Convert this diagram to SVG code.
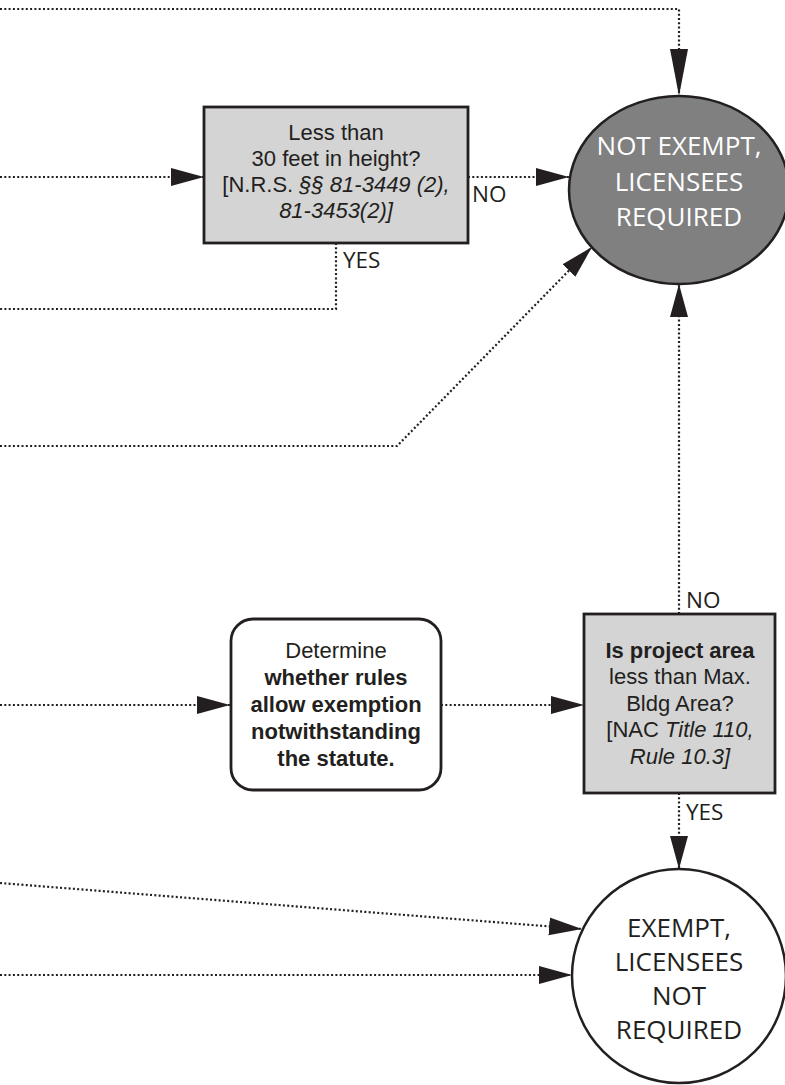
<svg xmlns="http://www.w3.org/2000/svg" width="785" height="1085" viewBox="0 0 785 1085">
<style>
.dot{fill:none;stroke:#231f20;stroke-width:2.2;stroke-dasharray:2 2.3}
.box{fill:#d4d4d4;stroke:#231f20;stroke-width:2.8}
.rbox{fill:#ffffff;stroke:#231f20;stroke-width:2.8}
.t{font-family:"Liberation Sans",Arial,sans-serif;font-size:22px;fill:#231f20;text-anchor:middle}
.b{font-weight:bold}
.i{font-style:italic}
.lbl{font-family:"Open Sans","Noto Sans",sans-serif;font-size:22.5px;fill:#231f20}
.ct{font-family:"Open Sans","Noto Sans",sans-serif;font-size:26px;text-anchor:middle}
</style>
<defs>
<marker id="ah" markerUnits="userSpaceOnUse" markerWidth="34" markerHeight="20" refX="33" refY="9" orient="auto">
<path d="M0,0 L33,9 L0,18 Z" fill="#231f20"/>
</marker>
<marker id="ahl" markerUnits="userSpaceOnUse" markerWidth="48" markerHeight="20" refX="47" refY="9" orient="auto">
<path d="M0,0 L47,9 L0,18 Z" fill="#231f20"/>
</marker>
</defs>

<g id="connectors">
<path class="dot" d="M0,9 H679 V96" marker-end="url(#ahl)"/>
<path class="dot" d="M0,177 H204" marker-end="url(#ah)"/>
<path class="dot" d="M468,177 H569" marker-end="url(#ah)"/>
<path class="dot" d="M336,243 V309 H0"/>
<path class="dot" d="M0,446 H397 L592,247" marker-end="url(#ah)"/>
<path class="dot" d="M679,614 V284" marker-end="url(#ah)"/>
<path class="dot" d="M0,705 H230" marker-end="url(#ah)"/>
<path class="dot" d="M441,705 H584" marker-end="url(#ah)"/>
<path class="dot" d="M679,793 V869" marker-end="url(#ah)"/>
<path class="dot" d="M0,883 L582,929" marker-end="url(#ah)"/>
<path class="dot" d="M0,975 H572" marker-end="url(#ah)"/>
<text class="lbl" x="472" y="202">NO</text>
<text class="lbl" x="343" y="268">YES</text>
<text class="lbl" x="686" y="608">NO</text>
<text class="lbl" x="686" y="820">YES</text>
</g>

<g id="not-exempt">
<ellipse cx="679" cy="190" rx="110" ry="94" fill="#808080" stroke="#231f20" stroke-width="2.5"/>
<text class="ct" fill="#ffffff" x="679" y="155">NOT EXEMPT,</text>
<text class="ct" fill="#ffffff" x="679" y="191">LICENSEES</text>
<text class="ct" fill="#ffffff" x="679" y="226">REQUIRED</text>
</g>

<g id="height-check">
<rect class="box" x="204" y="107" width="264" height="136"/>
<text class="t" x="336" y="140">Less than</text>
<text class="t" x="336" y="166">30 feet in height?</text>
<text class="t" x="336" y="192">[N.R.S. <tspan class="i">§§ 81-3449 (2),</tspan></text>
<text class="t i" x="336" y="218">81-3453(2)]</text>
</g>

<g id="determine-rules">
<rect class="rbox" x="231" y="619" width="210" height="171" rx="22" ry="22"/>
<text class="t" x="336" y="658">Determine</text>
<text class="t b" x="336" y="685">whether rules</text>
<text class="t b" x="336" y="712">allow exemption</text>
<text class="t b" x="336" y="739">notwithstanding</text>
<text class="t b" x="336" y="766">the statute.</text>
</g>

<g id="area-check">
<rect class="box" x="584" y="614" width="191" height="179"/>
<text class="t b" x="680" y="658">Is project area</text>
<text class="t" x="680" y="684">less than Max.</text>
<text class="t" x="680" y="711">Bldg Area?</text>
<text class="t" x="680" y="737">[NAC <tspan class="i">Title 110,</tspan></text>
<text class="t i" x="680" y="764">Rule 10.3]</text>
</g>

<g id="exempt">
<circle cx="679" cy="976" r="107" fill="#ffffff" stroke="#231f20" stroke-width="2.5"/>
<text class="ct" fill="#231f20" x="679" y="937">EXEMPT,</text>
<text class="ct" fill="#231f20" x="679" y="971">LICENSEES</text>
<text class="ct" fill="#231f20" x="679" y="1005">NOT</text>
<text class="ct" fill="#231f20" x="679" y="1039">REQUIRED</text>
</g>
</svg>
